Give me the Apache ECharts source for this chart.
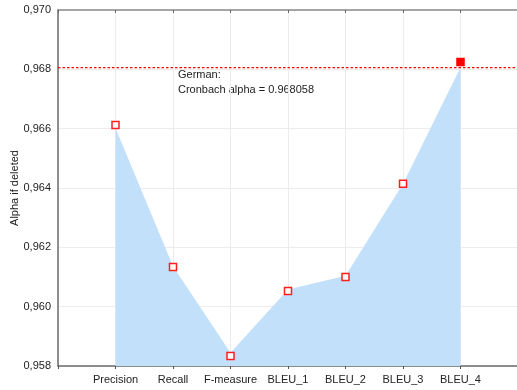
<!DOCTYPE html>
<html>
<head>
<meta charset="utf-8">
<script src="https://cdn.jsdelivr.net/npm/echarts@6/dist/echarts.min.js"></script>
<style>
html, body { margin: 0; padding: 0; background: #fff; }
#main { width: 517px; height: 390px; }
</style>
</head>
<body>
<div id="main"></div>
<script>
// categories (empty slots on both ends give the half-space the original has)
var categories = ['', 'Precision', 'Recall', 'F-measure', 'BLEU_1', 'BLEU_2', 'BLEU_3', 'BLEU_4', ''];
// marker values (alpha if item deleted)
var markerValues = ['-', 0.96612, 0.96134, 0.95834, 0.96053, 0.96100, 0.96414, 0.96825, '-'];
// area outline values
var areaValues = ['-', 0.96602, 0.96136, 0.95845, 0.96058, 0.96104, 0.96414, 0.96806, '-'];
var cronbachAlpha = 0.968058;
var yTicks = { min: 0.958, max: 0.970, interval: 0.002 };

var chart = echarts.init(document.getElementById('main'));

var markerData = markerValues.map(function (v, i) {
    if (i === markerValues.length - 2) {
        return { value: v, itemStyle: { color: '#ff0000', borderColor: '#ff0000' } };
    }
    return v;
});
var alphaLine = categories.map(function () { return cronbachAlpha; });

var option = {
    animation: false,
    grid: { left: 58, right: -1, top: 10, bottom: 24, containLabel: false, outerBoundsMode: 'none' },
    xAxis: [{
        type: 'category',
        data: categories,
        boundaryGap: false,
        axisLine: { lineStyle: { color: '#6b6b6b', width: 1.5 } },
        axisTick: { show: true, interval: 0, length: 3, lineStyle: { color: '#555' } },
        axisLabel: { interval: 0, color: '#222', fontSize: 11, fontFamily: 'Liberation Sans, Arial', margin: 8 },
        splitLine: { show: true, interval: 0, lineStyle: { color: '#ececec', width: 1 } }
    }, {
        type: 'category',
        position: 'top',
        data: categories,
        boundaryGap: false,
        axisLine: { show: true, lineStyle: { color: '#8a8a8a', width: 1.5 } },
        axisTick: { show: true, interval: 0, inside: true, length: 3, lineStyle: { color: '#666' } },
        axisLabel: { show: false },
        splitLine: { show: false }
    }],
    yAxis: {
        type: 'value',
        min: yTicks.min,
        max: yTicks.max,
        interval: yTicks.interval,
        name: 'Alpha if deleted',
        nameLocation: 'middle',
        nameGap: 38,
        nameMoveOverlap: false,
        nameTextStyle: { color: '#222', fontSize: 11, fontFamily: 'Liberation Sans, Arial' },
        axisLine: { show: true, lineStyle: { color: '#6b6b6b', width: 1.5 } },
        axisTick: { show: false },
        axisLabel: {
            color: '#222', fontSize: 11, fontFamily: 'Liberation Sans, Arial', margin: 7,
            formatter: function (v) { return v.toFixed(3).replace('.', ','); }
        },
        splitLine: { lineStyle: { color: '#ececec', width: 1 } }
    },
    series: [{
        type: 'line',
        data: areaValues,
        symbol: 'none',
        lineStyle: { width: 0 },
        areaStyle: { color: '#c3e0fb', opacity: 1, origin: 'start' },
        z: 2
    }, {
        type: 'line',
        data: alphaLine,
        symbol: 'none',
        silent: true,
        color: '#ff0000',
        lineStyle: { color: '#ff0000', type: [2.5, 2], width: 1.3 },
        z: 3
    }, {
        type: 'line',
        data: markerData,
        symbol: 'rect',
        symbolSize: 7,
        showSymbol: true,
        lineStyle: { width: 0 },
        itemStyle: { color: '#ffffff', borderColor: '#ff1f1f', borderWidth: 1.5 },
        z: 4
    }],
    graphic: [{
        type: 'text',
        left: 178,
        top: 67,
        style: {
            text: 'German:\nCronbach alpha = ' + cronbachAlpha,
            fill: '#222',
            font: '11px Liberation Sans, Arial',
            lineHeight: 15
        }
    }]
};

chart.setOption(option);
</script>
</body>
</html>
